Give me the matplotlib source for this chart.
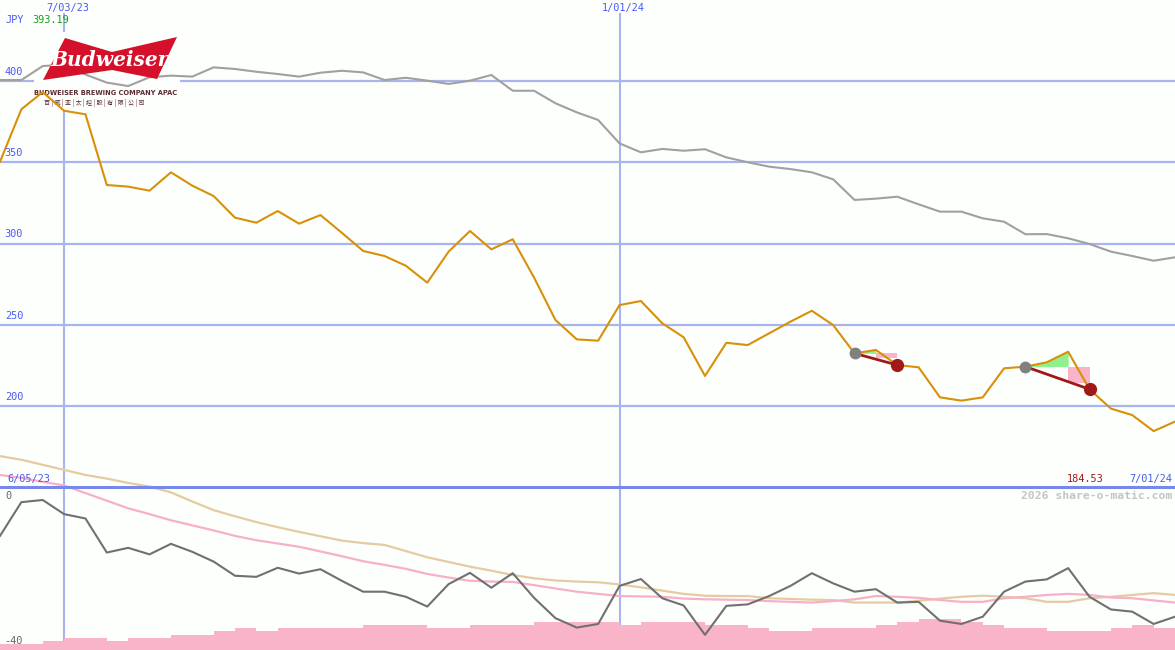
import matplotlib
matplotlib.use("Agg")
import matplotlib.pyplot as plt
import matplotlib.transforms as mtransforms
from matplotlib.patches import Polygon, Rectangle
from matplotlib.lines import Line2D
import pandas as pd

W, H = 1175, 650

# weekly closes, Budweiser Brewing Company APAC (JPY)
dates = pd.date_range('2023-06-12', '2024-07-01', freq='7D')
price = [350.3, 382.6, 393.19, 381.7, 379.5, 336.0, 335.0, 332.5, 343.8, 335.6,
         329.2, 315.9, 312.8, 320.0, 312.2, 317.5, 306.6, 295.4, 292.3, 286.3,
         275.9, 295.0, 307.7, 296.4, 302.6, 279.0, 252.9, 241.0, 240.2, 262.1,
         264.6, 250.9, 242.3, 218.5, 238.9, 237.5, 244.7, 251.9, 258.6, 249.8,
         232.4, 234.5, 225.2, 223.8, 205.3, 203.3, 205.3, 223.2, 224.2, 226.9,
         233.4, 210.3, 198.4, 194.4, 184.53, 190.4]
# comparison index, rebased
index_rel = [400.6, 400.6, 409.2, 410.0, 404.0, 399.0, 396.9, 402.3, 403.3, 402.7,
             408.4, 407.4, 405.7, 404.3, 402.7, 405.1, 406.3, 405.3, 400.6, 402.0,
             400.2, 398.2, 400.2, 403.7, 394.0, 394.0, 386.3, 380.7, 376.0, 361.6,
             356.1, 358.2, 357.1, 358.0, 353.0, 350.0, 347.3, 345.8, 343.8, 339.5,
             326.8, 327.6, 328.8, 324.1, 319.6, 319.6, 315.5, 313.4, 305.7, 305.8,
             303.2, 299.7, 295.0, 292.3, 289.4, 291.5]
# lower panel
momentum = [-11.0, -1.7, -1.1, -5.0, -6.2, -15.6, -14.3, -16.1, -13.2, -15.4,
            -18.1, -22.0, -22.3, -19.8, -21.4, -20.2, -23.4, -26.4, -26.4, -27.8,
            -30.5, -24.3, -21.2, -25.3, -21.3, -28.1, -33.7, -36.3, -35.3, -24.8,
            -22.9, -28.2, -30.2, -38.3, -30.3, -29.9, -27.6, -24.8, -21.3, -24.1,
            -26.4, -25.7, -29.4, -29.2, -34.4, -35.3, -33.3, -26.4, -23.6, -23.0,
            -19.9, -27.8, -31.3, -31.9, -35.3, -33.3]
ma_fast = [5.8, 5.0, 3.9, 2.9, 0.8, -1.3, -3.4, -5.0, -6.7, -8.1,
           -9.5, -11.0, -12.2, -13.1, -14.0, -15.3, -16.6, -18.0, -19.0, -20.1,
           -21.5, -22.5, -23.4, -23.6, -23.7, -24.6, -25.5, -26.4, -27.0, -27.6,
           -27.7, -27.8, -28.3, -28.5, -28.6, -28.7, -29.0, -29.2, -29.4, -29.0,
           -28.5, -27.6, -27.8, -28.1, -28.7, -29.2, -29.2, -28.2, -27.8, -27.3,
           -27.0, -27.3, -28.0, -28.2, -28.8, -29.4]
ma_slow = [11.0, 10.0, 8.6, 7.2, 5.8, 4.8, 3.6, 2.6, 1.0, -1.5,
           -3.9, -5.6, -7.2, -8.6, -9.9, -11.1, -12.3, -13.0, -13.5, -15.2,
           -16.9, -18.2, -19.5, -20.6, -21.8, -22.7, -23.3, -23.6, -23.8, -24.4,
           -25.2, -26.1, -27.0, -27.5, -27.6, -27.6, -28.2, -28.4, -28.6, -28.7,
           -29.4, -29.4, -29.4, -28.9, -28.3, -27.8, -27.5, -27.8, -28.2, -29.2,
           -29.2, -28.2, -27.8, -27.3, -26.8, -27.3]
volume = [5.7, 5.7, 9, 11.7, 11.7, 9, 11.7, 11.7, 15, 15,
          19, 21.7, 19, 21.7, 21.7, 21.7, 21.7, 25, 25, 25,
          21.7, 21.7, 25, 25, 25, 27.7, 27.7, 27.7, 27.7, 25,
          27.7, 27.7, 27.7, 25, 25, 22.3, 19, 19, 22.3, 22.3,
          22.3, 25, 27.7, 31, 31, 27.7, 25, 22.3, 22.3, 19,
          19, 19, 22.3, 25, 22.3, 22.3]

# trades: entry, peak, exit week index and stop level
trade_entry = [40, 48]
trade_peak = [41, 50]
trade_exit = [42, 51]
trade_stop = [229.7, 214.1]

grid_levels = [400, 350, 300, 250, 200]
date_marks = ['2023-07-03', '2024-01-01']
date_mark_labels = ['7/03/23', '1/01/24']

BG = '#fdfffd'
GRID = '#a8b4f0'
BLUE = '#4a5af0'
MONO = 'DejaVu Sans Mono'

fig = plt.figure(figsize=(W / 100, H / 100), dpi=100, facecolor=BG)


def fx(x):
    return x / W


def fy(y):
    return 1 - y / H


split = 487
xlim = (dates[0], dates[-1])

# volume layer (bottom)
axv = fig.add_axes([0, 0, 1, (H - split) / H])
axv.set_axis_off()
axv.set_xlim(xlim)
axv.set_ylim(0, 163)
for d in date_marks:
    axv.axvline(pd.Timestamp(d), color=GRID, lw=1.5, zorder=0)
axv.fill_between(dates, volume, step='post', color='#fab4c8', lw=0, zorder=1)

# main price panel
ax = fig.add_axes([0, (H - split) / H, 1, split / H])
ax.set_axis_off()
ax.set_xlim(xlim)
ax.set_ylim(150.15, 449.85)
lab_tr = mtransforms.blended_transform_factory(ax.transAxes, ax.transData)
for lv in grid_levels:
    ax.axhline(lv, color=GRID, lw=1.6, zorder=1)
    ax.text(0.004, lv + 2.5, str(lv), transform=lab_tr,
            color=BLUE, fontsize=7.4, family=MONO, va='bottom', ha='left', zorder=4)
for d in date_marks:
    ax.axvline(pd.Timestamp(d), ymin=0, ymax=(split - 14) / split, color=GRID, lw=1.5, zorder=1)

# logo
ax.add_patch(Rectangle((fx(34), fy(110)), fx(146), 78 / H, transform=fig.transFigure,
                       facecolor=BG, edgecolor='none', zorder=1.5))
bow = [(65, 38), (112, 52), (177, 37), (157, 79), (112, 70), (43, 80)]
ax.add_patch(Polygon([(fx(x), fy(y)) for x, y in bow], closed=True, transform=fig.transFigure,
                     facecolor='#d4102a', edgecolor='none', zorder=1.6))
ax.text(fx(110), fy(60), 'Budweiser', transform=fig.transFigure, color='white', fontsize=14.5,
        family='DejaVu Serif', style='italic', weight='bold', ha='center', va='center', zorder=1.7)
ax.text(fx(106), fy(93), 'BUDWEISER BREWING COMPANY APAC', transform=fig.transFigure,
        color='#5a2a30', fontsize=4.8, weight='bold', ha='center', va='center', zorder=1.7)
ax.text(fx(94), fy(103), '百 | 威 | 亚 | 太 | 控 | 股 | 有 | 限 | 公 | 司', transform=fig.transFigure,
        color='#5a2a30', fontsize=4.4, family=['Noto Sans CJK SC', 'DejaVu Sans'],
        ha='center', va='center', zorder=1.7)

ax.plot(dates, index_rel, color='#a0a0a0', lw=1.5, zorder=1.55)
ax.plot(dates, price, color='#d89008', lw=1.5, zorder=3.2)

# trade overlays
for e, p, x, s in zip(trade_entry, trade_peak, trade_exit, trade_stop):
    lvl = price[e]
    ax.fill_between(dates[e:p + 1], price[e:p + 1], lvl, color='#90f090', lw=0, zorder=2.5)
    ax.fill_between([dates[p], dates[x]], [lvl, lvl], [s, s], color='#fab4c8', lw=0, zorder=2.5)
    ax.plot([dates[e], dates[x]], [price[e], price[x]], color='#a01818', lw=2, zorder=3.5)
    ax.plot(dates[e], price[e], 'o', color='#808080', ms=7.5, zorder=3.6)
    ax.plot(dates[x], price[x], 'o', color='#a01818', ms=8.5, zorder=3.6)

# lower indicator panel
ax2 = fig.add_axes([0, 0, 1, (H - split) / H])
ax2.set_axis_off()
ax2.set_xlim(xlim)
ax2.set_ylim(-42.48, 2.48)
ax2.plot(dates, ma_slow, color='#e4cca0', lw=1.6, clip_on=False, zorder=2)
ax2.plot(dates, ma_fast, color='#f8b0c8', lw=1.6, clip_on=False, zorder=2)
ax2.plot(dates, momentum, color='#707070', lw=1.5, zorder=3)
lab_tr2 = mtransforms.blended_transform_factory(ax2.transAxes, ax2.transData)
ax2.text(0.005, 0, '0', transform=lab_tr2, color='#666666', fontsize=7.4, family=MONO, va='center')
ax2.text(0.004, -40, '-40', transform=lab_tr2, color='#666666', fontsize=7.4, family=MONO, va='center')

fig.add_artist(Line2D([0, 1], [fy(split), fy(split)], transform=fig.transFigure, color='#7888e8', lw=2.2))

# header / footer labels
for d, lab in zip(date_marks, date_mark_labels):
    xpix = (pd.Timestamp(d) - dates[0]) / (dates[-1] - dates[0]) * W
    fig.text(fx(xpix + 4), fy(8), lab, color=BLUE, fontsize=7.4, family=MONO, ha='center', va='center')
fig.text(fx(5), fy(20), 'JPY', color=BLUE, fontsize=7.4, family=MONO, va='center')
fig.text(fx(32), fy(20), f'{max(price):.2f}', color='#18a018', fontsize=7.4, family=MONO, va='center')
fig.text(fx(7), fy(479), '6/05/23', color=BLUE, fontsize=7.4, family=MONO, va='center')
fig.text(fx(1067), fy(479), f'{min(price):.2f}', color='#a01818', fontsize=7.4, family=MONO, va='center')
fig.text(fx(1172), fy(479), '7/01/24', color=BLUE, fontsize=7.4, family=MONO, va='center', ha='right')
fig.text(fx(1172), fy(496), '2026 share-o-matic.com', color='#c4c4c4', fontsize=8.2, family=MONO,
         weight='bold', va='center', ha='right')

fig.savefig('out.png', dpi=100, facecolor=BG)
